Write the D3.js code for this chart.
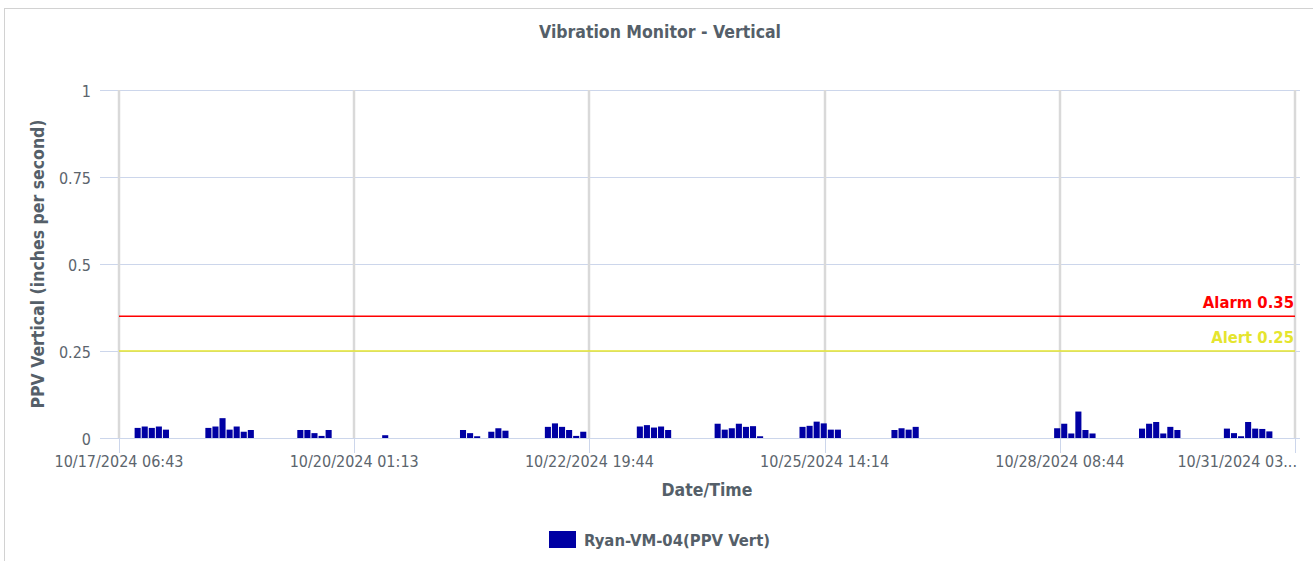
<!DOCTYPE html>
<html>
<head>
<meta charset="utf-8">
<script src="https://cdn.jsdelivr.net/npm/d3@7"></script>
<style>
  body { margin: 0; background: #fff; }
  svg { display: block; font-family: "DejaVu Sans Condensed", "DejaVu Sans", Verdana, sans-serif; font-stretch: condensed; }
</style>
</head>
<body>
<svg id="chart" width="1313" height="561"></svg>
<script>
// readings of Ryan-VM-04, vertical peak particle velocity (in/s)
const readingTimes = [
    "2024-10-17 12:00", "2024-10-17 14:00", "2024-10-17 16:00", "2024-10-17 18:00", "2024-10-17 20:00",
    "2024-10-18 08:00", "2024-10-18 10:00", "2024-10-18 12:00", "2024-10-18 14:00", "2024-10-18 16:00", "2024-10-18 18:00", "2024-10-18 20:00",
    "2024-10-19 10:00", "2024-10-19 12:00", "2024-10-19 14:00", "2024-10-19 16:00", "2024-10-19 18:00",
    "2024-10-20 10:00",
    "2024-10-21 08:00", "2024-10-21 10:00", "2024-10-21 12:00", "2024-10-21 16:00", "2024-10-21 18:00", "2024-10-21 20:00",
    "2024-10-22 08:00", "2024-10-22 10:00", "2024-10-22 12:00", "2024-10-22 14:00", "2024-10-22 16:00", "2024-10-22 18:00",
    "2024-10-23 10:00", "2024-10-23 12:00", "2024-10-23 14:00", "2024-10-23 16:00", "2024-10-23 18:00",
    "2024-10-24 08:00", "2024-10-24 10:00", "2024-10-24 12:00", "2024-10-24 14:00", "2024-10-24 16:00", "2024-10-24 18:00", "2024-10-24 20:00",
    "2024-10-25 08:00", "2024-10-25 10:00", "2024-10-25 12:00", "2024-10-25 14:00", "2024-10-25 16:00", "2024-10-25 18:00",
    "2024-10-26 10:00", "2024-10-26 12:00", "2024-10-26 14:00", "2024-10-26 16:00",
    "2024-10-28 08:00", "2024-10-28 10:00", "2024-10-28 12:00", "2024-10-28 14:00", "2024-10-28 16:00", "2024-10-28 18:00",
    "2024-10-29 08:00", "2024-10-29 10:00", "2024-10-29 12:00", "2024-10-29 14:00", "2024-10-29 16:00", "2024-10-29 18:00",
    "2024-10-30 08:00", "2024-10-30 10:00", "2024-10-30 12:00", "2024-10-30 14:00", "2024-10-30 16:00", "2024-10-30 18:00", "2024-10-30 20:00"
];

const ppvVert = [
    0.029, 0.033, 0.029, 0.033, 0.024,
    0.029, 0.033, 0.057, 0.024, 0.033, 0.018, 0.023,
    0.023, 0.023, 0.014, 0.006, 0.023,
    0.008,
    0.023, 0.014, 0.005, 0.018, 0.028, 0.021,
    0.032, 0.042, 0.032, 0.023, 0.006, 0.018,
    0.033, 0.037, 0.030, 0.033, 0.023,
    0.041, 0.024, 0.028, 0.041, 0.032, 0.034, 0.005,
    0.032, 0.035, 0.047, 0.042, 0.024, 0.024,
    0.023, 0.028, 0.024, 0.032,
    0.028, 0.041, 0.013, 0.076, 0.023, 0.013,
    0.027, 0.041, 0.046, 0.013, 0.032, 0.023,
    0.027, 0.014, 0.005, 0.046, 0.027, 0.026, 0.019
];

// axis ticks
const xTickTimes = [
    "2024-10-17 06:43:30", "2024-10-20 01:13:50", "2024-10-22 19:44:10",
    "2024-10-25 14:14:30", "2024-10-28 08:44:50", "2024-10-31 03:15:10"
];
const xTickLabels = [
    "10/17/2024 06:43", "10/20/2024 01:13", "10/22/2024 19:44",
    "10/25/2024 14:14", "10/28/2024 08:44", "10/31/2024 03..."
];
const yTicks = [0, 0.25, 0.5, 0.75, 1];
const yTickLabels = ["0", "0.25", "0.5", "0.75", "1"];

// threshold lines
const thresholdNames = ["Alarm 0.35", "Alert 0.25"];
const thresholdValues = [0.35, 0.25];

const seriesName = "Ryan-VM-04(PPV Vert)";

const colours = {
    bar: "#0000a3",
    thresholds: ["#ff0000", "#e5e52e"],
    text: "#555f69",
    tick: "#5c656d",
    hGrid: "#ccd6eb",
    vGrid: "#d9d9d9",
    border: "#d2d2d2"
};

const parseMinute = d3.timeParse("%Y-%m-%d %H:%M");
const parseSecond = d3.timeParse("%Y-%m-%d %H:%M:%S");

const readings = readingTimes.map(function (t, i) {
    return { time: parseMinute(t), value: ppvVert[i] };
});
const tickDates = xTickTimes.map(parseSecond);

const plot = { left: 119, right: 1295, top: 90, bottom: 438 };

const x = d3.scaleTime()
    .domain([tickDates[0], tickDates[tickDates.length - 1]])
    .range([plot.left, plot.right]);

const y = d3.scaleLinear()
    .domain([0, 1])
    .range([plot.bottom, plot.top]);

const svg = d3.select("#chart");

// outer frame
svg.append("rect")
    .attr("x", 4.5)
    .attr("y", 8.5)
    .attr("width", 1330)
    .attr("height", 600)
    .attr("fill", "#fff")
    .attr("stroke", colours.border);

// title
svg.append("text")
    .attr("x", 660)
    .attr("y", 38)
    .attr("text-anchor", "middle")
    .attr("font-size", "17.5px")
    .attr("font-weight", "bold")
    .attr("fill", colours.text)
    .text("Vibration Monitor - Vertical");

// horizontal grid, extending left as tick marks
svg.append("g")
    .selectAll("line")
    .data(yTicks)
  .enter()
  .append("line")
    .attr("x1", 100)
    .attr("x2", 1300)
    .attr("y1", function (d) { return Math.round(y(d)) + 0.5; })
    .attr("y2", function (d) { return Math.round(y(d)) + 0.5; })
    .attr("stroke", colours.hGrid)
    .attr("stroke-width", 1);

// vertical grid
svg.append("g")
    .selectAll("line")
    .data(tickDates)
  .enter()
  .append("line")
    .attr("x1", function (d) { return Math.round(x(d)); })
    .attr("x2", function (d) { return Math.round(x(d)); })
    .attr("y1", plot.top)
    .attr("y2", plot.bottom)
    .attr("stroke", colours.vGrid)
    .attr("stroke-width", 2.5);

// x tick marks
svg.append("g")
    .selectAll("line")
    .data(tickDates)
  .enter()
  .append("line")
    .attr("x1", function (d) { return Math.round(x(d)) + 0.5; })
    .attr("x2", function (d) { return Math.round(x(d)) + 0.5; })
    .attr("y1", plot.bottom)
    .attr("y2", plot.bottom + 15)
    .attr("stroke", colours.hGrid);

// y tick labels
svg.append("g")
    .selectAll("text")
    .data(yTicks)
  .enter()
  .append("text")
    .attr("x", 91)
    .attr("y", function (d) { return y(d) + 6.5; })
    .attr("text-anchor", "end")
    .attr("font-size", "16px")
    .attr("fill", colours.tick)
    .text(function (d, i) { return yTickLabels[i]; });

// x tick labels, the last one pulled in to fit the frame
svg.append("g")
    .selectAll("text")
    .data(tickDates)
  .enter()
  .append("text")
    .attr("x", function (d, i) { return i === tickDates.length - 1 ? x(d) + 2 : x(d); })
    .attr("y", plot.bottom + 29)
    .attr("text-anchor", function (d, i) { return i === tickDates.length - 1 ? "end" : "middle"; })
    .attr("font-size", "16px")
    .attr("fill", colours.tick)
    .text(function (d, i) { return xTickLabels[i]; });

// axis titles
svg.append("text")
    .attr("x", (plot.left + plot.right) / 2)
    .attr("y", 496)
    .attr("text-anchor", "middle")
    .attr("font-size", "17.5px")
    .attr("font-weight", "bold")
    .attr("fill", colours.text)
    .text("Date/Time");

svg.append("text")
    .attr("transform", "translate(43.5," + ((plot.top + plot.bottom) / 2) + ") rotate(-90)")
    .attr("text-anchor", "middle")
    .attr("font-size", "17.5px")
    .attr("font-weight", "bold")
    .attr("fill", colours.text)
    .text("PPV Vertical (inches per second)");

// alarm / alert lines
const thresholds = svg.append("g")
    .selectAll("g")
    .data(thresholdValues)
  .enter()
  .append("g");

thresholds.append("line")
    .attr("x1", plot.left)
    .attr("x2", plot.right)
    .attr("y1", function (d) { return y(d); })
    .attr("y2", function (d) { return y(d); })
    .attr("stroke", function (d, i) { return colours.thresholds[i]; })
    .attr("stroke-width", 1.5);

thresholds.append("text")
    .attr("x", plot.right - 1)
    .attr("y", function (d) { return y(d) - 8; })
    .attr("text-anchor", "end")
    .attr("font-size", "16.5px")
    .attr("font-weight", "bold")
    .attr("fill", function (d, i) { return colours.thresholds[i]; })
    .text(function (d, i) { return thresholdNames[i]; });

// columns, each two hours wide less a small gap
function barWidth(d) {
    return x(d3.timeHour.offset(d.time, 1)) - x(d3.timeHour.offset(d.time, -1)) - 1;
}

svg.append("g")
    .selectAll("rect")
    .data(readings)
  .enter()
  .append("rect")
    .attr("x", function (d) { return x(d.time) - barWidth(d) / 2; })
    .attr("y", function (d) { return y(d.value); })
    .attr("width", barWidth)
    .attr("height", function (d) { return y(0) - y(d.value); })
    .attr("fill", colours.bar);

// legend
const legend = svg.append("g");

legend.append("rect")
    .attr("x", 549)
    .attr("y", 531)
    .attr("width", 27)
    .attr("height", 17)
    .attr("fill", colours.bar);

legend.append("text")
    .attr("x", 584)
    .attr("y", 546)
    .attr("font-size", "16.5px")
    .attr("font-weight", "bold")
    .attr("fill", colours.text)
    .text(seriesName);
</script>
</body>
</html>
